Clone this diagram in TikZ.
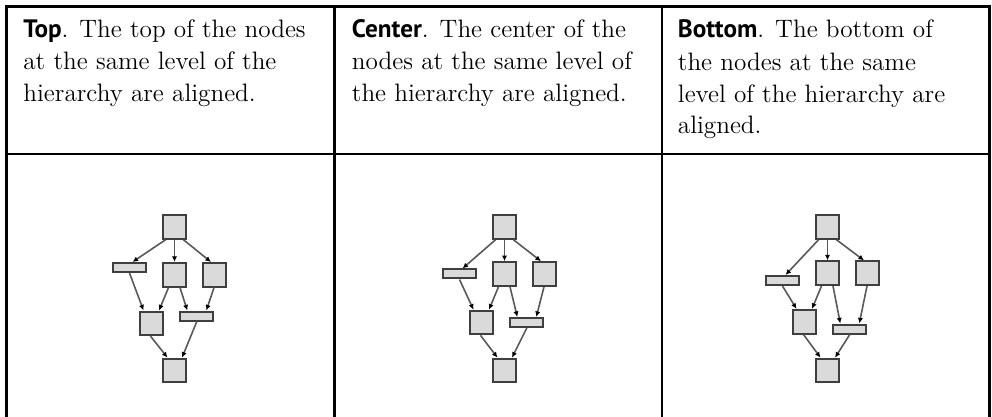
\documentclass[tikz,border=0pt]{standalone}
\usepackage{fontspec}
\newfontfamily\headfont{PT Sans}
\usetikzlibrary{calc,arrows.meta}
\definecolor{BoxFill}{HTML}{DADADA}
\definecolor{BoxLine}{HTML}{3F3F3F}
\definecolor{LinkGray}{HTML}{595959}

\begin{document}
\begin{tikzpicture}[x=0.5pt,y=-0.5pt,
  sq/.style={draw=BoxLine,fill=BoxFill,line width=1pt,minimum width=11.8pt,minimum height=11.8pt,inner sep=0pt},
  bar/.style={sq,minimum width=16.5pt,minimum height=4.5pt},
  link/.style={LinkGray,line width=0.8pt,-{Latex[length=2.8pt,width=2.6pt,color=black]}},
  cell/.style={anchor=base west,align=left,inner sep=0pt,font=\fontsize{12.6}{16}\selectfont}]
  \useasboundingbox (0,0) rectangle (992,417);
  % table rules
  \draw[line width=1.3pt] (6.5,417) -- (6.5,6.5) -- (989.3,6.5) -- (989.3,417);
  \draw[line width=1.3pt] (6.5,154) -- (989.3,154);
  \draw[line width=1.3pt] (334.7,6.5) -- (334.7,417) (662,6.5) -- (662,417);
  % header cells (placed by the baseline of their last line)
  \node[cell] (top) at (23,102) {{\headfont\bfseries Top}. The top of the nodes\\at the same level of the\\hierarchy are aligned.};
  \node[cell] (center) at (351.5,102) {{\headfont\bfseries Center}. The center of the\\nodes at the same level of\\the hierarchy are aligned.};
  \node[cell] (bottom) at (677.5,134) {{\headfont\bfseries Bottom}. The bottom of\\the nodes at the same\\level of the hierarchy are\\aligned.};
  % one hierarchy per column, levels aligned by \anc
  \foreach \dx/\anc/\ya/\yb in {0/north/262/310.5,330/center/274/322.5,653/south/286/334.5}{
    \node[sq] (root) at ({\dx+174.5},227) {};
    \node[bar,anchor=\anc] (left) at ({\dx+129.5},\ya) {};
    \node[sq,anchor=\anc] (mid) at ({\dx+174.5},\ya) {};
    \node[sq,anchor=\anc] (right) at ({\dx+214.5},\ya) {};
    \node[sq,anchor=\anc] (join) at ({\dx+151.5},\yb) {};
    \node[bar,anchor=\anc] (flat) at ({\dx+196.3},\yb) {};
    \node[sq] (leaf) at ({\dx+174.5},370.5) {};
    \draw[link] ($(root.south)+(-9,0)$) -- ($(left.north)+(3,0)$);
    \draw[link] (root.south) -- (mid.north);
    \draw[link] ($(root.south)+(9,0)$) -- ($(right.north)+(-3.5,0)$);
    \draw[link] (left.south) -- ($(join.north)+(-8,0)$);
    \draw[link] ($(mid.south)+(-6,0)$) -- ($(join.north)+(7.5,0)$);
    \draw[link] ($(mid.south)+(5.5,0)$) -- ($(flat.north)+(-9,0)$);
    \draw[link] ($(right.south)+(-0.5,0)$) -- ($(flat.north)+(10,0)$);
    \draw[link] ($(join.south)+(-1,0)$) -- ($(leaf.north)+(-7,0)$);
    \draw[link] ($(flat.south)+(0.5,0)$) -- ($(leaf.north)+(7.5,0)$);
  }
\end{tikzpicture}
\end{document}
